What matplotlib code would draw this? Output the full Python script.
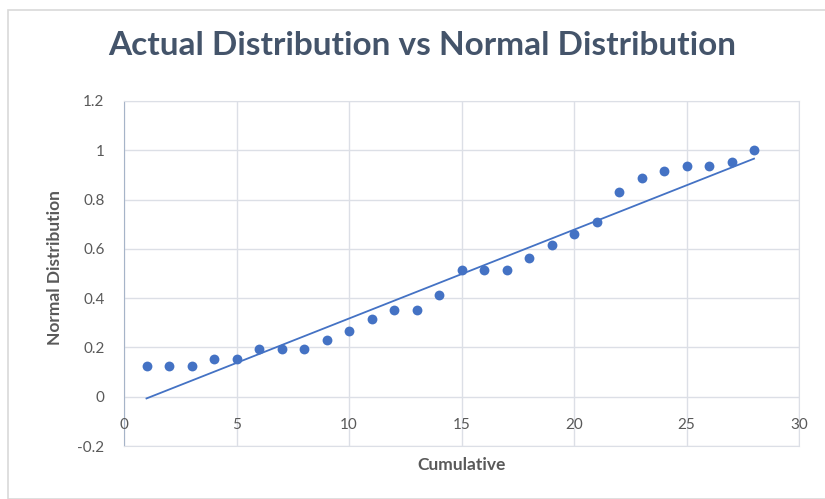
import numpy as np
import matplotlib
matplotlib.use('Agg')
import matplotlib.pyplot as plt
from matplotlib.patches import Rectangle

# data
cumulative = np.arange(1, 29)
normal_dist = [0.126, 0.126, 0.126, 0.155, 0.155, 0.192, 0.192, 0.192, 0.230, 0.268,
               0.316, 0.353, 0.353, 0.411, 0.513, 0.513, 0.513, 0.561, 0.617, 0.659,
               0.709, 0.831, 0.888, 0.915, 0.935, 0.935, 0.953, 1.000]
# straight reference line, ends
line_x = [1, 28]
line_y = [-0.007, 0.966]
x_ticks = [0, 5, 10, 15, 20, 25, 30]
y_ticks = [-0.2, 0, 0.2, 0.4, 0.6, 0.8, 1.0, 1.2]
y_labels = ['-0.2', '0', '0.2', '0.4', '0.6', '0.8', '1', '1.2']

blue = '#4472C4'
grid_c = '#DCDFE6'
txt_c = '#595959'

plt.rcParams['font.family'] = ['Lato', 'DejaVu Sans']

fig = plt.figure(figsize=(8.25, 4.99), dpi=100)
fig.patches.append(Rectangle((8/825, 0), 1, 1 - 10/499, transform=fig.transFigure,
                             fill=False, edgecolor='#D9D9D9', lw=1.2))

ax = fig.add_axes([124/825, 53/499, 675/825, 345/499])
ax.scatter(cumulative, normal_dist, s=50, color=blue, zorder=3, linewidths=0)
ax.plot(line_x, line_y, color=blue, lw=1.3, zorder=2)

ax.set_xlim(0, 30)
ax.set_ylim(-0.2, 1.2)
ax.set_xticks(x_ticks)
ax.set_yticks(y_ticks)
ax.set_yticklabels(y_labels)
ax.set_xticklabels([])
ax.grid(True, color=grid_c, lw=1)
ax.set_axisbelow(True)
ax.tick_params(length=0, labelsize=11, labelcolor=txt_c)
ax.tick_params(axis='y', pad=14)
for s in ['top', 'right', 'bottom']:
    ax.spines[s].set_color(grid_c)
ax.spines['left'].set_color('#A6B4C8')

# x tick labels sit just under the zero line
for t in x_ticks:
    ax.text(t, -0.113, str(t), ha='center', va='center', fontsize=11, color=txt_c)

ax.set_xlabel('Cumulative', fontsize=12.5, fontweight='bold', color=txt_c, va='center')
ax.xaxis.set_label_coords(0.5, -0.055)
ax.set_ylabel('Normal Distribution', fontsize=12.5, fontweight='bold', color=txt_c, va='center')
ax.yaxis.set_label_coords(-0.102, 0.517)

fig.text(0.512, 0.8898, 'Actual Distribution vs Normal Distribution', ha='center', va='baseline',
         fontsize=24, fontweight='bold', color='#44546A')

fig.savefig('out.png', dpi=100)
